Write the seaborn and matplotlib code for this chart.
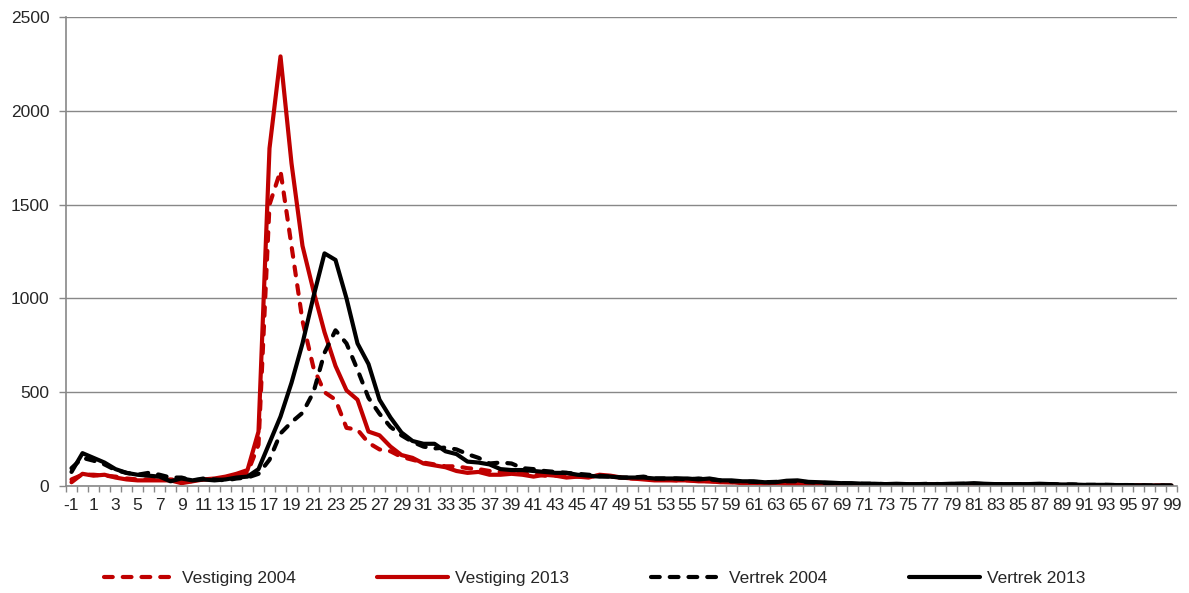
import numpy as np
import pandas as pd
import matplotlib
matplotlib.use("Agg")
import matplotlib.pyplot as plt
import seaborn as sns
from matplotlib.ticker import MultipleLocator, FixedLocator

ages = list(range(-1, 100))

vestiging_2004 = [
    35, 60, 60, 55, 50, 40, 35, 35, 30, 35, 30, 25, 35, 35, 40, 55, 70, 220, 1500, 1680,
    1280, 880, 630, 500, 460, 310, 300, 230, 195, 185, 155, 140, 125, 115, 105, 105, 95, 90, 80, 75,
    70, 65, 65, 55, 55, 55, 50, 50, 55, 50, 45, 40, 40, 35, 35, 30, 30, 28, 25, 22,
    20, 18, 18, 15, 15, 15, 12, 12, 12, 10, 10, 10, 10, 8, 8, 8, 8, 8, 8, 8,
    6, 6, 8, 6, 6, 6, 6, 6, 6, 5, 5, 5, 5, 4, 4, 3, 3, 3, 2, 2, 2,
]
vestiging_2013 = [
    20, 65, 55, 60, 45, 35, 30, 30, 30, 30, 15, 25, 35, 40, 50, 65, 85, 290, 1800, 2290,
    1720, 1280, 1040, 820, 640, 510, 460, 290, 270, 210, 165, 150, 120, 110, 100, 80, 70, 75, 60, 60,
    65, 60, 50, 60, 55, 45, 50, 45, 60, 55, 45, 40, 35, 30, 30, 30, 30, 25, 25, 20,
    20, 15, 15, 12, 15, 12, 10, 10, 10, 10, 8, 8, 8, 8, 8, 8, 8, 6, 8, 6,
    6, 6, 8, 6, 6, 6, 5, 6, 6, 6, 5, 5, 4, 4, 4, 3, 3, 3, 2, 2, 2,
]
vertrek_2004 = [
    95, 150, 135, 115, 85, 70, 60, 70, 60, 45, 45, 30, 40, 35, 30, 40, 45, 65, 140, 280,
    340, 390, 500, 710, 830, 760, 620, 470, 385, 315, 270, 235, 210, 200, 205, 195, 170, 150, 120, 125,
    120, 95, 90, 80, 75, 70, 65, 60, 55, 50, 45, 45, 50, 40, 40, 40, 35, 40, 35, 30,
    25, 25, 22, 20, 22, 25, 25, 20, 18, 15, 15, 12, 12, 12, 10, 10, 10, 10, 12, 10,
    10, 12, 12, 10, 10, 10, 10, 10, 10, 10, 8, 8, 6, 6, 6, 5, 5, 4, 3, 3, 2,
]
vertrek_2013 = [
    75, 175, 150, 125, 90, 70, 60, 55, 50, 25, 40, 30, 35, 30, 35, 45, 50, 90, 230, 370,
    550, 760, 1010, 1240, 1205, 1000, 760, 650, 460, 365, 285, 240, 225, 225, 185, 170, 130, 125, 115, 90,
    85, 85, 80, 75, 70, 70, 60, 55, 50, 50, 45, 45, 45, 40, 40, 40, 40, 35, 40, 30,
    30, 25, 25, 20, 20, 28, 30, 22, 20, 18, 15, 15, 12, 12, 10, 12, 10, 10, 10, 10,
    12, 12, 15, 12, 10, 10, 10, 10, 12, 10, 8, 8, 6, 6, 6, 5, 5, 4, 3, 3, 3,
]

series_names = ["Vestiging 2004", "Vestiging 2013", "Vertrek 2004", "Vertrek 2013"]
series_values = [vestiging_2004, vestiging_2013, vertrek_2004, vertrek_2013]
series_colors = ["#C00000", "#C00000", "#000000", "#000000"]
series_dashed = [True, False, True, False]

sns.set_style("white")
plt.rcParams["font.family"] = ["Liberation Sans", "DejaVu Sans"]

fig = plt.figure(figsize=(11.89, 5.93), dpi=100)
ax = fig.add_axes([66 / 1189, 1 - 486 / 593, (1177 - 66) / 1189, (486 - 17) / 593])

lw = 3.0
for name, vals, col, dashed in zip(series_names, series_values, series_colors, series_dashed):
    df = pd.DataFrame({"age": ages, "value": vals})
    sns.lineplot(data=df, x="age", y="value", ax=ax, color=col, linewidth=lw,
                 label=name, legend=False)
    l = ax.get_lines()[-1]
    l.set_solid_joinstyle("round")
    if dashed:
        l.set_dashes((2.1, 2.4))
        l.set_dash_capstyle("round")

ax.set_xlim(-1.5, 99.5)
ax.set_ylim(0, 2500)
ax.set_xlabel("")
ax.set_ylabel("")

grid_col = "#888888"
ax.yaxis.set_major_locator(MultipleLocator(500))
ax.yaxis.grid(True, color=grid_col, linewidth=1.0)
ax.set_axisbelow(True)
ax.tick_params(axis="y", length=5, width=1.0, color=grid_col, labelsize=12.5, pad=7, left=True)

ax.xaxis.set_major_locator(FixedLocator(ages[::2]))
ax.set_xticklabels([str(a) for a in ages[::2]])
ax.xaxis.set_minor_locator(FixedLocator(np.arange(-1.5, 100, 1.0)))
ax.tick_params(axis="x", which="major", length=0, labelsize=12.5, pad=9)
ax.tick_params(axis="x", which="minor", length=4, width=1.0, color=grid_col, bottom=True)

for s in ["top", "right"]:
    ax.spines[s].set_visible(False)
for s in ["left", "bottom"]:
    ax.spines[s].set_color(grid_col)
    ax.spines[s].set_linewidth(1.2)

handles, labels = ax.get_legend_handles_labels()
fig.legend(handles, labels, loc="center", bbox_to_anchor=(0.5, 1 - 578 / 593), ncol=4,
           frameon=False, fontsize=12.5, handlelength=4.1, handletextpad=0.4,
           columnspacing=4.7)

fig.savefig("out.png", dpi=100)
